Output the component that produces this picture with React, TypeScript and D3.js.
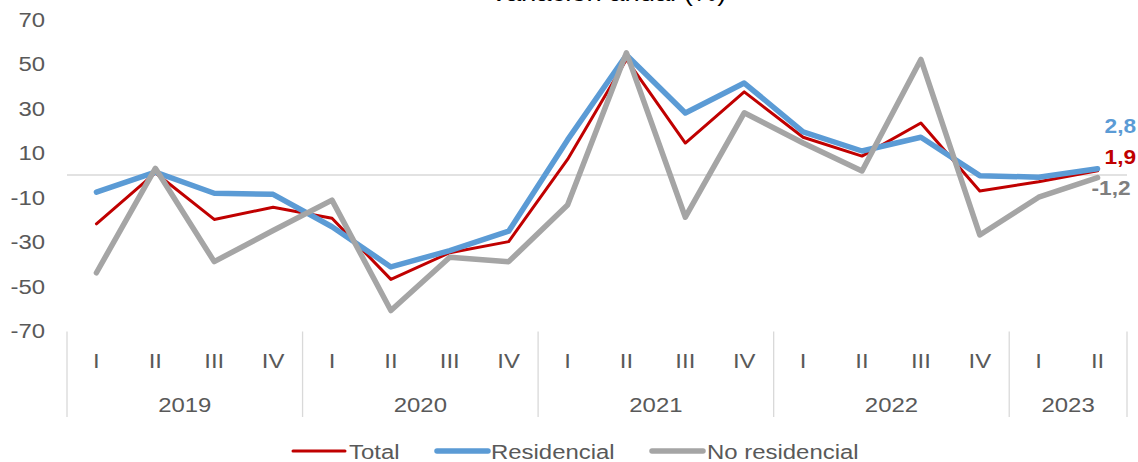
import React from "react";
import * as d3 from "d3";

const years = ["2019", "2020", "2021", "2022", "2023"];
const quarters = ["I", "II", "III", "IV"];
const quartersPerYear = [4, 4, 4, 4, 2];
const total = [-22, 1, -20, -14.5, -19.5, -47, -35, -30, 7, 52, 14.4, 37.4, 17, 8.5, 23.4, -7.2, -3, 1.9];
const residencial = [-7.7, 1.3, -8.2, -8.7, -23.3, -41.4, -34, -25.3, 15.8, 54, 27.9, 41.4, 19.4, 10.8, 17, -0.3, -1, 2.8];
const noResidencial = [-44, 3, -39, -25, -11.3, -61, -37, -39, -13.5, 55, -19, 28, 14.4, 1.8, 52, -27, -10, -1.2];
const yTicks = [70, 50, 30, 10, -10, -30, -50, -70];
const seriesNames = ["Total", "Residencial", "No residencial"];
const endLabels = ["1,9", "2,8", "-1,2"];
const title = "Variación anual (%)";

const W = 1138, H = 462;
const left = 67, right = 1127, top = 19.5, bottom = 330.5;
const font = "Liberation Sans, Arial, sans-serif";
const textColor = "#595959";
const SX = 1.14;

function T(props: { x: number; y: number; anchor?: string; size: number; fill: string; bold?: boolean; sx?: number; children: React.ReactNode }) {
  const sx = props.sx ?? SX;
  return (
    <g transform={`translate(${props.x},${props.y}) scale(${sx},1)`}>
      <text x={0} y={0} textAnchor={props.anchor || "start"} fontSize={props.size} fill={props.fill} fontWeight={props.bold ? "bold" : "normal"}>
        {props.children}
      </text>
    </g>
  );
}

export default function App() {
  const cats: { y: string; q: string; key: string }[] = [];
  years.forEach((yr, i) => {
    for (let k = 0; k < quartersPerYear[i]; k++) cats.push({ y: yr, q: quarters[k], key: yr + "-" + quarters[k] });
  });
  const x = d3.scaleBand<string>().domain(cats.map((c) => c.key)).range([left, right]);
  const y = d3.scaleLinear().domain([-70, 70]).range([bottom, top]);
  const cx = (i: number) => (x(cats[i].key) as number) + x.bandwidth() / 2;

  const line = d3.line<number>().x((_, i) => cx(i)).y((v) => y(v));
  const series = [
    { name: seriesNames[0], data: total, color: "#C00000", width: 3, labelColor: "#C00000", dy: -14, dx: 7 },
    { name: seriesNames[1], data: residencial, color: "#5B9BD5", width: 5.5, labelColor: "#5B9BD5", dy: -43, dx: 7 },
    { name: seriesNames[2], data: noResidencial, color: "#A5A5A5", width: 5.5, labelColor: "#7F7F7F", dy: 10, dx: -6 },
  ];

  const seps: number[] = [left];
  let acc = 0;
  quartersPerYear.forEach((n) => {
    acc += n;
    seps.push(left + acc * x.bandwidth());
  });

  const legend = [
    { x1: 293, x2: 345, tx: 349 },
    { x1: 437, x2: 488, tx: 491 },
    { x1: 652, x2: 703, tx: 707 },
  ];

  return (
    <svg width={W} height={H} style={{ position: "absolute", left: 0, top: 0, background: "#fff" }} fontFamily={font}>
      <T x={608} y={1} anchor="middle" size={24} fill="#000">{title}</T>
      <line x1={left} x2={right} y1={y(0)} y2={y(0)} stroke="#D9D9D9" strokeWidth={1.5} />
      {yTicks.map((t) => (
        <T key={t} x={45} y={y(t) + 7.5} anchor="end" size={21} fill={textColor}>{t}</T>
      ))}
      {seps.map((s, i) => (
        <line key={i} x1={s} x2={s} y1={bottom + 1} y2={417} stroke="#D9D9D9" strokeWidth={1.3} />
      ))}
      {cats.map((c, i) => (
        <T key={c.key} x={cx(i)} y={368} anchor="middle" size={21} fill={textColor}>{c.q}</T>
      ))}
      {years.map((yr, i) => (
        <T key={yr} x={(seps[i] + seps[i + 1]) / 2} y={411.5} anchor="middle" size={21} fill={textColor}>{yr}</T>
      ))}
      {series.map((s) => (
        <path key={s.name} d={line(s.data) || ""} fill="none" stroke={s.color} strokeWidth={s.width} strokeLinejoin="round" strokeLinecap="round" />
      ))}
      {series.map((s, i) => {
        const n = s.data.length - 1;
        return (
          <T key={s.name + "l"} x={cx(n) + s.dx} y={y(s.data[n]) + s.dy + 7.5} size={21} bold sx={1.08} fill={s.labelColor}>{endLabels[i]}</T>
        );
      })}
      {series.map((s, i) => (
        <g key={s.name + "lg"}>
          <line x1={legend[i].x1} x2={legend[i].x2} y1={451} y2={451} stroke={s.color} strokeWidth={s.width} strokeLinecap="round" />
          <T x={legend[i].tx} y={458.5} size={21} fill={textColor}>{s.name}</T>
        </g>
      ))}
    </svg>
  );
}
